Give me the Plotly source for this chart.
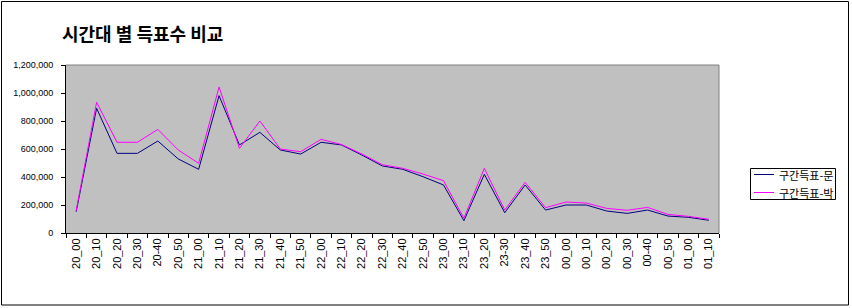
import plotly.graph_objects as go

categories = ["20_00", "20_10", "20_20", "20_30", "20-40", "20_50", "21_00", "21_10",
              "21_20", "21_30", "21_40", "21_50", "22_00", "22_10", "22_20", "22_30",
              "22_40", "22_50", "23_00", "23_10", "23_20", "23-30", "23_40", "23_50",
              "00_00", "00_10", "00_20", "00_30", "00-40", "00_50", "01_00", "01_10"]

moon = [152000, 891000, 569000, 569000, 657000, 529000, 455000, 981000,
        629000, 719000, 593000, 564000, 648000, 629000, 557000, 479000,
        455000, 402000, 343000, 88000, 419000, 145000, 343000, 164000,
        200000, 200000, 157000, 140000, 164000, 121000, 112000, 91000]

park = [160000, 934000, 648000, 648000, 740000, 593000, 498000, 1043000,
        605000, 800000, 600000, 581000, 669000, 632000, 564000, 488000,
        462000, 421000, 374000, 105000, 462000, 164000, 362000, 181000,
        221000, 214000, 176000, 162000, 183000, 133000, 119000, 98000]

series_names = ["구간득표-문", "구간득표-박"]
series_colors = ["#000080", "#FF00FF"]
y_ticks = [0, 200000, 400000, 600000, 800000, 1000000, 1200000]

W, H = 852, 308
L, R, T, B = 66, 719, 65, 233
pw, ph = R - L, B - T

def px(x):
    return (x - L) / pw

def py(y):
    return (B - y) / ph

fig = go.Figure()
for name, vals, col in zip(series_names, [moon, park], series_colors):
    fig.add_trace(go.Scatter(x=categories, y=vals, mode="lines", name=name,
                             line=dict(color=col, width=1)))

font_main = "Liberation Sans, Arial, sans-serif"
kr = "Noto Sans CJK KR"

annotations = [dict(text="<b>시간대 별 득표수 비교</b>", xref="paper", yref="paper",
                    x=px(60), y=py(33), xanchor="left", yanchor="middle",
                    showarrow=False, font=dict(family=kr, size=18, color="black"))]

shapes = [
    dict(type="line", xref="paper", yref="paper", x0=0, x1=1, y0=1, y1=1,
         line=dict(color="#808080", width=1), layer="above"),
    dict(type="line", xref="paper", yref="paper", x0=1, x1=1, y0=0, y1=1,
         line=dict(color="#808080", width=1), layer="above"),
    dict(type="rect", xref="paper", yref="paper",
         x0=px(1.5), x1=px(848.5), y0=py(305), y1=py(1.5),
         line=dict(color="black", width=1), layer="above"),
    # legend box
    dict(type="rect", xref="paper", yref="paper",
         x0=px(750.5), x1=px(835.5), y0=py(199.5), y1=py(168.5),
         line=dict(color="black", width=1), fillcolor="white", layer="above"),
]

row_y = [174.5, 192.5]
for name, col, ry in zip(series_names, series_colors, row_y):
    shapes.append(dict(type="line", xref="paper", yref="paper",
                       x0=px(754), x1=px(774), y0=py(ry), y1=py(ry),
                       line=dict(color=col, width=1), layer="above"))
    annotations.append(dict(text=name, xref="paper", yref="paper",
                            x=px(777), y=py(ry), xanchor="left", yanchor="middle",
                            showarrow=False,
                            font=dict(family=kr, size=11, color="black")))

fig.update_layout(
    width=W, height=H,
    margin=dict(l=L, r=W - R, t=T, b=H - B, pad=0),
    paper_bgcolor="white",
    plot_bgcolor="#C0C0C0",
    showlegend=False,
    xaxis=dict(type="category", tickson="boundaries", ticks="outside", ticklen=4,
               tickcolor="black", showline=True, linecolor="black", linewidth=1,
               showgrid=False, tickangle=-90,
               tickfont=dict(family=font_main, size=11, color="black"),
               range=[-0.5, len(categories) - 0.5]),
    yaxis=dict(range=[0, 1200000], tickvals=y_ticks, tickformat=",d",
               ticks="outside", ticklen=4, tickcolor="black",
               showline=True, linecolor="black", linewidth=1,
               showgrid=False, zeroline=False, ticklabelstandoff=6,
               tickfont=dict(family=font_main, size=9, color="black")),
    annotations=annotations,
    shapes=shapes,
)

fig.write_html("out.html")
